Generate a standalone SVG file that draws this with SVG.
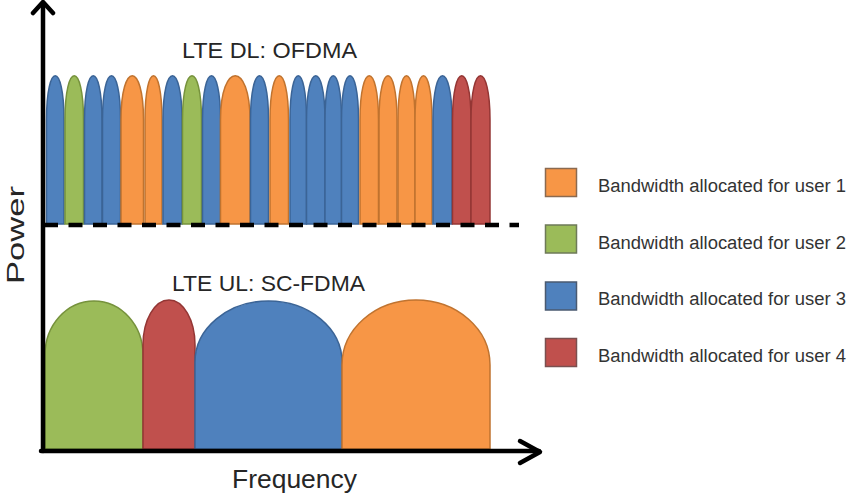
<svg xmlns="http://www.w3.org/2000/svg" width="854" height="496" viewBox="0 0 854 496">
<style>
.b{fill:#4f81bd;stroke:#3b6496;stroke-width:1.5}
.g{fill:#9bbb59;stroke:#76923c;stroke-width:1.5}
.o{fill:#f79646;stroke:#c0732f;stroke-width:1.5}
.r{fill:#c0504d;stroke:#943634;stroke-width:1.5}
.t{font-family:"Liberation Sans",Arial,sans-serif;fill:#262626}
.lg{font-family:"Liberation Sans",Arial,sans-serif;fill:#333333;font-size:18px}
.ax{stroke:#000;stroke-width:4.5;fill:none;stroke-linecap:round;stroke-linejoin:round}
</style>
<rect width="854" height="496" fill="#ffffff"/>
<g id="ofdma">
<path class="b" d="M46.5,224 V120 C46.5,61 64,61 64,120 V224 Z"/>
<path class="g" d="M65,224 V120 C65,61 83.5,61 83.5,120 V224 Z"/>
<path class="b" d="M84.5,224 V120 C84.5,61 102,61 102,120 V224 Z"/>
<path class="b" d="M102.5,224 V120 C102.5,61 120.5,61 120.5,120 V224 Z"/>
<path class="o" d="M121,224 V120 C121,61 143.5,61 143.5,120 V224 Z"/>
<path class="o" d="M145,224 V120 C145,61 162,61 162,120 V224 Z"/>
<path class="b" d="M163,224 V120 C163,61 182,61 182,120 V224 Z"/>
<path class="g" d="M182.5,224 V120 C182.5,61 201.5,61 201.5,120 V224 Z"/>
<path class="b" d="M202.5,224 V120 C202.5,61 220.5,61 220.5,120 V224 Z"/>
<path class="o" d="M220.5,224 V120 C220.5,61 250,61 250,120 V224 Z"/>
<path class="b" d="M250.5,224 V120 C250.5,61 268.5,61 268.5,120 V224 Z"/>
<path class="o" d="M270,224 V120 C270,61 288.5,61 288.5,120 V224 Z"/>
<path class="b" d="M290,224 V120 C290,61 306.5,61 306.5,120 V224 Z"/>
<path class="b" d="M306.5,224 V120 C306.5,61 325,61 325,120 V224 Z"/>
<path class="b" d="M325,224 V120 C325,61 341.5,61 341.5,120 V224 Z"/>
<path class="b" d="M341.5,224 V120 C341.5,61 358.5,61 358.5,120 V224 Z"/>
<path class="o" d="M360,224 V120 C360,61 378.5,61 378.5,120 V224 Z"/>
<path class="o" d="M379,224 V120 C379,61 397,61 397,120 V224 Z"/>
<path class="o" d="M398,224 V120 C398,61 415,61 415,120 V224 Z"/>
<path class="o" d="M415,224 V120 C415,61 432,61 432,120 V224 Z"/>
<path class="b" d="M433,224 V120 C433,61 452,61 452,120 V224 Z"/>
<path class="r" d="M452.5,224 V120 C452.5,61 471,61 471,120 V224 Z"/>
<path class="r" d="M471,224 V120 C471,61 490,61 490,120 V224 Z"/>
</g>
<g id="scfdma">
<path class="g" d="M45,449 V355 A49,54 0 0 1 143,355 V449 Z"/>
<path class="r" d="M143,449 V345 A26,45 0 0 1 195,345 V449 Z"/>
<path class="b" d="M195,449 V362 A73.5,61 0 0 1 342,362 V449 Z"/>
<path class="o" d="M342,449 V365 A74,65 0 0 1 490,365 V449 Z"/>
</g>
<g id="connectors">
<line x1="44" y1="225" x2="519" y2="225" stroke="#000" stroke-width="4.5" stroke-dasharray="14 10.5"/>
<line class="ax" x1="43" y1="3" x2="43" y2="451"/>
<line class="ax" x1="41" y1="451" x2="539" y2="451"/>
<polyline class="ax" points="33,13 43,2 53,13"/>
<polyline class="ax" points="520,441 540,452 520,463"/>
</g>
<g id="labels">
<text class="t" x="182" y="58" font-size="22" textLength="175" lengthAdjust="spacingAndGlyphs">LTE DL: OFDMA</text>
<text class="t" x="172" y="291" font-size="22" textLength="193" lengthAdjust="spacingAndGlyphs">LTE UL: SC-FDMA</text>
<text class="t" x="232" y="488" font-size="25" textLength="125" lengthAdjust="spacingAndGlyphs">Frequency</text>
<text class="t" transform="translate(24,284) rotate(-90)" font-size="24" textLength="98" lengthAdjust="spacingAndGlyphs">Power</text>
</g>
<g id="legend1">
<rect x="545.5" y="168.5" width="31" height="28" fill="#f79646" stroke="#8a6a50" stroke-width="1.5"/>
<text class="lg" x="598" y="192" textLength="248" lengthAdjust="spacingAndGlyphs">Bandwidth allocated for user 1</text>
</g>
<g id="legend2">
<rect x="545.5" y="225" width="31" height="28" fill="#9bbb59" stroke="#6e7a58" stroke-width="1.5"/>
<text class="lg" x="598" y="248.5" textLength="248" lengthAdjust="spacingAndGlyphs">Bandwidth allocated for user 2</text>
</g>
<g id="legend3">
<rect x="545.5" y="282" width="31" height="28" fill="#4f81bd" stroke="#4a5a70" stroke-width="1.5"/>
<text class="lg" x="598" y="305" textLength="248" lengthAdjust="spacingAndGlyphs">Bandwidth allocated for user 3</text>
</g>
<g id="legend4">
<rect x="545.5" y="338.5" width="31" height="28" fill="#c0504d" stroke="#7a5050" stroke-width="1.5"/>
<text class="lg" x="598" y="362" textLength="248" lengthAdjust="spacingAndGlyphs">Bandwidth allocated for user 4</text>
</g>
</svg>
